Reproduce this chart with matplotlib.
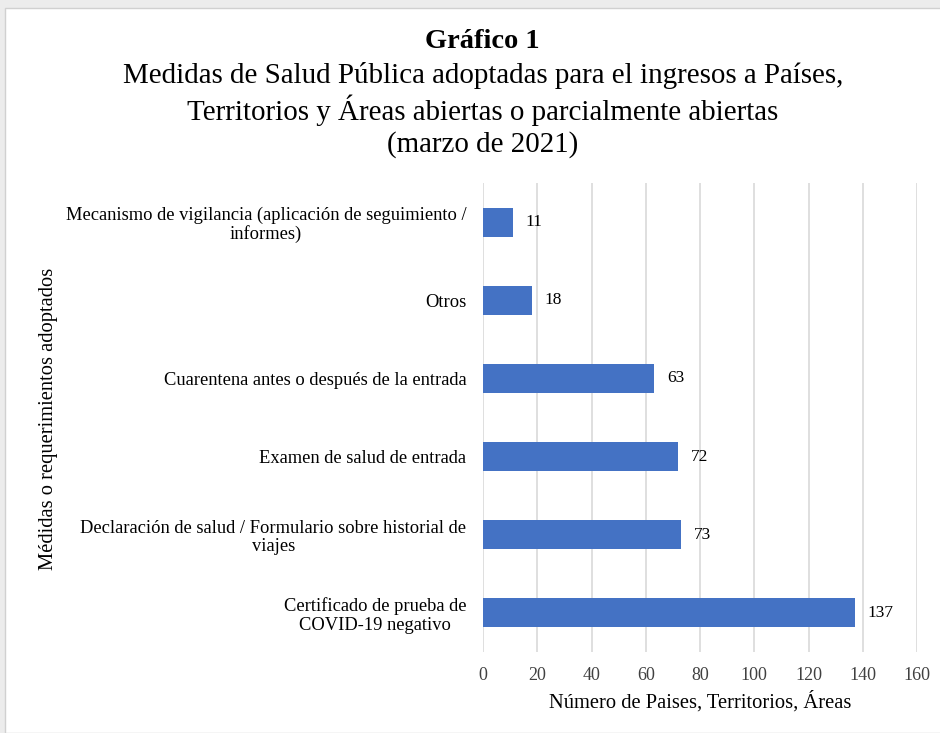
import matplotlib.pyplot as plt
from matplotlib.patches import Rectangle

plt.rcParams['font.family'] = ['Liberation Serif', 'DejaVu Serif']

# Datos
categorias = [
    "Certificado de prueba de\nCOVID-19 negativo",
    "Declaración de salud / Formulario sobre historial de\nviajes",
    "Examen de salud de entrada",
    "Cuarentena antes o después de la entrada",
    "Otros",
    "Mecanismo de vigilancia (aplicación de seguimiento /\ninformes)",
]
valores = [137, 73, 72, 63, 18, 11]
ticks_x = [0, 20, 40, 60, 80, 100, 120, 140, 160]

fig = plt.figure(figsize=(9.4, 7.33), dpi=100)
fig.patch.set_facecolor("#ececec")
# marco blanco del grafico
fig.patches.append(Rectangle((5 / 940, 0), 1, 1 - 8 / 733, transform=fig.transFigure,
                             facecolor="white", edgecolor="#d0d0d0", lw=1, zorder=-10))

ax = fig.add_axes([483 / 940, 1 - 652 / 733, 434 / 940, (652 - 183) / 733])
ax.set_facecolor("none")

y = range(len(categorias))
ax.barh(y, valores, height=0.37, color="#4472C4", zorder=3)
for yi, v in zip(y, valores):
    ax.text(v + 4.8, yi, str(v), va="center", ha="left", fontsize=12.5, zorder=4)

ax.set_xlim(0, 160)
ax.set_ylim(-0.5, len(categorias) - 0.5)
ax.set_xticks(ticks_x)
ax.set_yticks(list(y))
ax.set_yticklabels(categorias, fontsize=13.3, multialignment="center", linespacing=1.1)
ax.tick_params(axis="both", length=0)
ax.tick_params(axis="x", labelsize=13, pad=11)
ax.tick_params(axis="y", pad=12)
for lbl in ax.get_xticklabels():
    lbl.set_color("#404040")
ax.grid(axis="x", color="#d9d9d9", lw=1.2, zorder=0)
for s in ax.spines.values():
    s.set_visible(False)

ax.set_xlabel("Número de Paises, Territorios, Áreas", fontsize=14.8, labelpad=5)
fig.text(49 / 940, 1 - 419 / 733, "Médidas o requerimientos adoptados", rotation=90,
         ha="center", va="center", fontsize=14.8)

fig.text(482 / 940, 1 - 42 / 733, "Gráfico 1", ha="center", va="center",
         fontsize=20.5, fontweight="bold")
fig.text(483 / 940, 1 - 110 / 733,
         "Medidas de Salud Pública adoptadas para el ingresos a Países,\n"
         "Territorios y Áreas abiertas o parcialmente abiertas\n"
         "(marzo de 2021)",
         ha="center", va="center", fontsize=20.9, linespacing=1.22)

fig.savefig("out.png", dpi=100)
